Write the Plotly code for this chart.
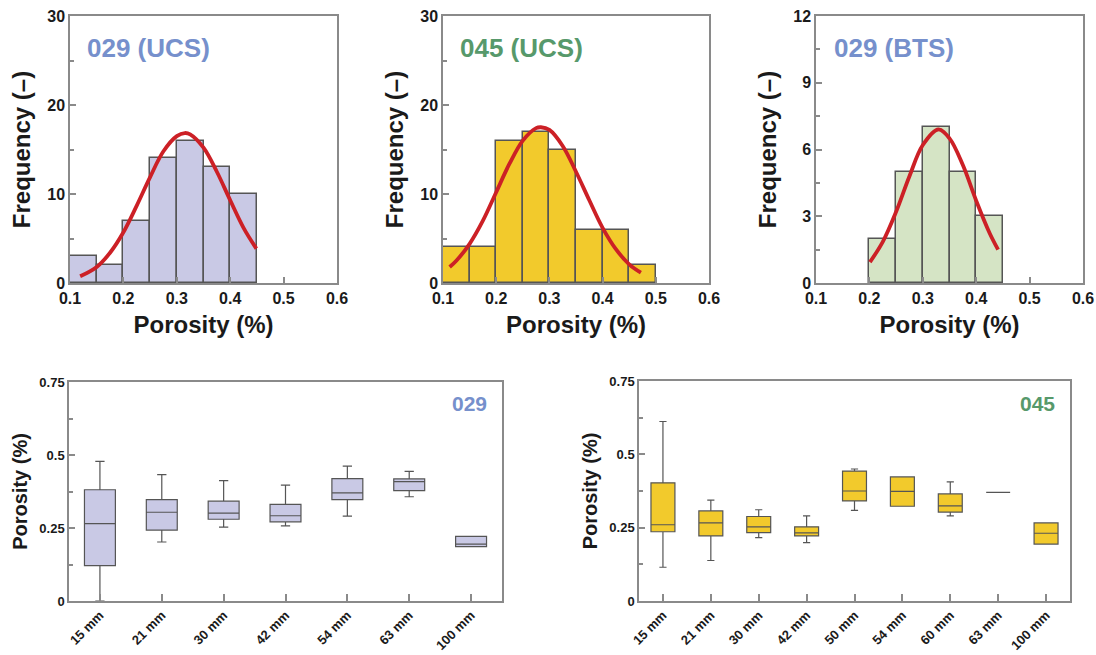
import plotly.graph_objects as go

# ---------------- histogram data ----------------
bin_width = 0.05

ucs029_centers = [0.125, 0.175, 0.225, 0.275, 0.325, 0.375, 0.425]
ucs029_counts = [3, 2, 7, 14, 16, 13, 10]

ucs045_centers = [0.125, 0.175, 0.225, 0.275, 0.325, 0.375, 0.425, 0.475]
ucs045_counts = [4, 4, 16, 17, 15, 6, 6, 2]

bts029_centers = [0.225, 0.275, 0.325, 0.375, 0.425]
bts029_counts = [2, 5, 7, 5, 3]

# fitted normal curves (porosity, frequency)
fit029_x = [0.119, 0.15, 0.175, 0.20, 0.225, 0.25, 0.275, 0.30, 0.315, 0.325, 0.35, 0.375, 0.40, 0.425, 0.449]
fit029_y = [0.75, 1.8, 3.4, 5.7, 8.7, 11.9, 14.8, 16.5, 16.85, 16.7, 15.2, 12.5, 9.3, 6.2, 3.86]

fit045_x = [0.1125, 0.125, 0.15, 0.175, 0.20, 0.225, 0.25, 0.275, 0.284, 0.30, 0.325, 0.35, 0.375, 0.40, 0.425, 0.45, 0.472]
fit045_y = [1.8, 2.5, 4.4, 7.0, 10.2, 13.4, 16.0, 17.4, 17.5, 17.2, 15.4, 12.5, 9.3, 6.2, 3.8, 2.1, 1.16]

fitbts_x = [0.201, 0.225, 0.25, 0.275, 0.30, 0.329, 0.35, 0.375, 0.40, 0.425, 0.441]
fitbts_y = [0.94, 1.85, 3.2, 4.8, 6.2, 6.9, 6.5, 5.3, 3.7, 2.25, 1.5]

# ---------------- box plot data ----------------
sizes029 = ["15 mm", "21 mm", "30 mm", "42 mm", "54 mm", "63 mm", "100 mm"]
lo029 = [0.0, 0.202, 0.253, 0.257, 0.291, 0.357, 0.186]
q1_029 = [0.121, 0.243, 0.280, 0.271, 0.347, 0.378, 0.186]
med029 = [0.265, 0.304, 0.301, 0.292, 0.370, 0.409, 0.195]
q3_029 = [0.381, 0.347, 0.342, 0.331, 0.419, 0.418, 0.221]
hi029 = [0.478, 0.433, 0.412, 0.397, 0.462, 0.444, 0.221]

sizes045 = ["15 mm", "21 mm", "30 mm", "42 mm", "50 mm", "54 mm", "60 mm", "63 mm", "100 mm"]
lo045 = [0.115, 0.138, 0.216, 0.199, 0.309, 0.323, 0.290, 0.370, 0.194]
q1_045 = [0.236, 0.222, 0.233, 0.222, 0.341, 0.323, 0.303, 0.370, 0.194]
med045 = [0.260, 0.266, 0.253, 0.232, 0.375, 0.374, 0.324, 0.370, 0.231]
q3_045 = [0.403, 0.307, 0.288, 0.253, 0.443, 0.423, 0.365, 0.370, 0.266]
hi045 = [0.612, 0.344, 0.311, 0.290, 0.450, 0.423, 0.406, 0.370, 0.266]

# ---------------- styles ----------------
FONT = "Liberation Sans"
LAV = "#c9c9e5"
YEL = "#f2ca2c"
GRN = "#d5e4c5"
RED = "#cc2026"
EDGE = "#555555"
FRAME = "#8a8a8a"
BLUE_TXT = "#7690cc"
GREEN_TXT = "#57996b"

W, H = 1096, 655


def xdom(a, b):
    return [a / W, b / W]


def ydom(top, bottom):
    return [1 - bottom / H, 1 - top / H]


fig = go.Figure()

hist_sets = [
    (ucs029_centers, ucs029_counts, LAV, fit029_x, fit029_y, "x", "y"),
    (ucs045_centers, ucs045_counts, YEL, fit045_x, fit045_y, "x2", "y2"),
    (bts029_centers, bts029_counts, GRN, fitbts_x, fitbts_y, "x3", "y3"),
]
for cx, cnt, col, fx, fy, xa, ya in hist_sets:
    fig.add_trace(go.Bar(
        x=cx, y=cnt, width=bin_width, marker=dict(color=col, line=dict(color=EDGE, width=1.5)),
        xaxis=xa, yaxis=ya, showlegend=False,
    ))
    fig.add_trace(go.Scatter(
        x=fx, y=fy, mode="lines", line=dict(color=RED, width=3.8, shape="spline"),
        xaxis=xa, yaxis=ya, showlegend=False,
    ))

box_sets = [
    (sizes029, lo029, q1_029, med029, q3_029, hi029, LAV, "x4", "y4"),
    (sizes045, lo045, q1_045, med045, q3_045, hi045, YEL, "x5", "y5"),
]
for cats, lo, q1, med, q3, hi, col, xa, ya in box_sets:
    fig.add_trace(go.Box(
        x=cats, q1=q1, median=med, q3=q3, lowerfence=lo, upperfence=hi,
        fillcolor=col, line=dict(color=EDGE, width=1.2), width=0.5, whiskerwidth=0.3,
        xaxis=xa, yaxis=ya, showlegend=False, boxpoints=False,
    ))

tick_font_big = dict(family=FONT, size=16, color="#1a1a1a", weight=700)
title_font_big = dict(family=FONT, size=24, color="#1a1a1a", weight=700)
tick_font_small = dict(family=FONT, size=13, color="#1a1a1a", weight=700)
title_font_small = dict(family=FONT, size=20, color="#1a1a1a", weight=700)

common_axis = dict(showline=True, linecolor=FRAME, linewidth=1.5, mirror=True, showgrid=False,
                   zeroline=False, ticks="inside", tickcolor=FRAME, tickwidth=1.5, automargin=False)

hist_x_doms = [xdom(70, 337), xdom(443, 709), xdom(816, 1083)]
hist_y_dom = ydom(16, 283)
hist_yranges = [[0, 30], [0, 30], [0, 12]]
hist_ydticks = [10, 10, 3]
layout_axes = {}
for i in range(3):
    sx = "" if i == 0 else str(i + 1)
    layout_axes["xaxis" + sx] = dict(
        common_axis, domain=hist_x_doms[i], range=[0.1, 0.6], tickmode="linear", tick0=0.1, dtick=0.1,
        ticklen=6, tickfont=tick_font_big, anchor="y" + sx,
        title=dict(text="Porosity (%)", font=title_font_big, standoff=10),
    )
    layout_axes["yaxis" + sx] = dict(
        common_axis, domain=hist_y_dom, range=hist_yranges[i], tickmode="linear", tick0=0,
        dtick=hist_ydticks[i], ticklen=6, tickfont=tick_font_big, anchor="x" + sx,
        minor=dict(ticks="inside", dtick=hist_ydticks[i] / 2, ticklen=4, tickcolor=FRAME, tickwidth=1.5),
        title=dict(text="Frequency (–)", font=title_font_big, standoff=10),
    )

box_x_doms = [xdom(69, 502), xdom(639, 1070)]
box_y_doms = [ydom(382, 601), ydom(381, 601)]
box_cats = [sizes029, sizes045]
for j in range(2):
    n = str(j + 4)
    layout_axes["xaxis" + n] = dict(
        common_axis, domain=box_x_doms[j], range=[-0.5, len(box_cats[j]) - 0.5], type="category",
        categoryorder="array", categoryarray=box_cats[j], ticklen=7, tickangle=-45,
        tickfont=tick_font_small, anchor="y" + n,
    )
    layout_axes["yaxis" + n] = dict(
        common_axis, domain=box_y_doms[j], range=[0, 0.75], tickmode="array",
        tickvals=[0, 0.25, 0.5, 0.75], ticktext=["0", "0.25", "0.5", "0.75"], ticklen=6,
        tickfont=tick_font_small, anchor="x" + n,
        minor=dict(ticks="inside", tickvals=[0.125, 0.375, 0.625], ticklen=4, tickcolor=FRAME, tickwidth=1.5),
        title=dict(text="Porosity (%)", font=title_font_small, standoff=6),
    )

annotations = [
    dict(text="029 (UCS)", x=0.058, y=0.88, xref="x domain", yref="y domain", xanchor="left", yanchor="middle",
         showarrow=False, font=dict(family=FONT, size=26, color=BLUE_TXT, weight=700)),
    dict(text="045 (UCS)", x=0.055, y=0.88, xref="x2 domain", yref="y2 domain", xanchor="left", yanchor="middle",
         showarrow=False, font=dict(family=FONT, size=26, color=GREEN_TXT, weight=700)),
    dict(text="029 (BTS)", x=0.06, y=0.88, xref="x3 domain", yref="y3 domain", xanchor="left", yanchor="middle",
         showarrow=False, font=dict(family=FONT, size=26, color=BLUE_TXT, weight=700)),
    dict(text="029", x=0.97, y=0.9, xref="x4 domain", yref="y4 domain", xanchor="right", yanchor="middle",
         showarrow=False, font=dict(family=FONT, size=21, color=BLUE_TXT, weight=700)),
    dict(text="045", x=0.97, y=0.9, xref="x5 domain", yref="y5 domain", xanchor="right", yanchor="middle",
         showarrow=False, font=dict(family=FONT, size=21, color=GREEN_TXT, weight=700)),
]

fig.update_layout(
    width=W, height=H, margin=dict(l=0, r=0, t=0, b=0),
    paper_bgcolor="white", plot_bgcolor="white", bargap=0,
    annotations=annotations, **layout_axes,
)

fig.write_html("out.html")
